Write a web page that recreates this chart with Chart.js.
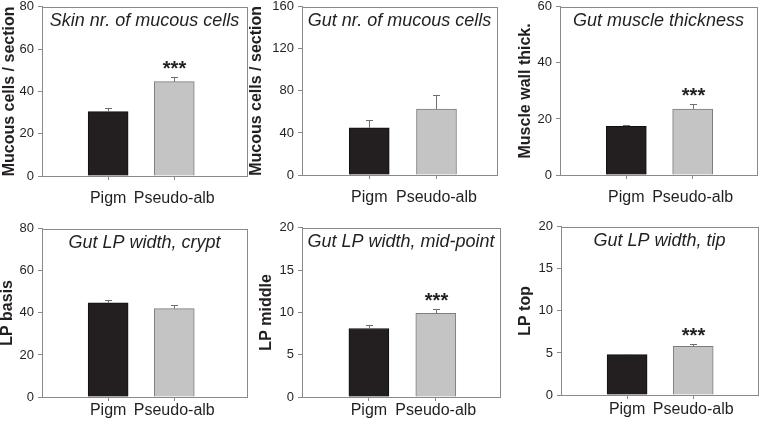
<!DOCTYPE html>
<html>
<head>
<meta charset="utf-8">
<script src="https://cdn.jsdelivr.net/npm/chart.js@4.4.0/dist/chart.umd.min.js"></script>
<style>
  html, body { margin: 0; padding: 0; background: #fff; width: 760px; height: 426px; overflow: hidden; position: relative; }
  canvas { position: absolute; }
</style>
</head>
<body>
<script>
// groups on the x axis
const groups = ['Pigm', 'Pseudo-alb'];

// panel texts
const panelTitles = ['Skin nr. of mucous cells', 'Gut nr. of mucous cells', 'Gut muscle thickness',
  'Gut LP width, crypt', 'Gut LP width, mid-point', 'Gut LP width, tip'];
const axisTitles = ['Mucous cells / section', 'Mucous cells / section', 'Muscle wall thick.',
  'LP basis', 'LP middle', 'LP top'];

// means and standard errors (Pigm, Pseudo-alb)
const skinMucous = [30.4, 44.6];
const skinMucousSE = [1.6, 2.3];
const gutMucous = [44.9, 62.8];
const gutMucousSE = [7.8, 13.4];
const muscleWall = [17.4, 23.5];
const muscleWallSE = [0.6, 1.8];
const lpBasis = [44.8, 42.0];
const lpBasisSE = [1.5, 1.8];
const lpMiddle = [8.1, 9.9];
const lpMiddleSE = [0.4, 0.5];
const lpTop = [4.8, 5.8];
const lpTopSE = [0.12, 0.3];

// y axis ticks
const yMax = [80, 160, 60, 80, 20, 20];
const yStep = [20, 40, 20, 20, 5, 5];

// *** marks
const significant = [[false, true], [false, false], [false, true], [false, false], [false, true], [false, true]];

const means = [skinMucous, gutMucous, muscleWall, lpBasis, lpMiddle, lpTop];
const errors = [skinMucousSE, gutMucousSE, muscleWallSE, lpBasisSE, lpMiddleSE, lpTopSE];

// where each plot box sits on the page
const boxes = [
  { l: 42, t: 5, r: 247, b: 176, yw: 42, xMax: 3.1, lp: 9 },
  { l: 302, t: 5, r: 497, b: 175, yw: 55, xMax: 2.9, lp: 9 },
  { l: 560, t: 5, r: 757, b: 175, yw: 44, xMax: 2.97, lp: 9 },
  { l: 42, t: 227, r: 247, b: 397, yw: 44, xMax: 3.1, lp: 0 },
  { l: 302, t: 226, r: 500, b: 397, yw: 45, xMax: 2.96, lp: 0 },
  { l: 561, t: 225, r: 758, b: 395, yw: 45, xMax: 2.98, lp: 1 }
];

const FONT = "'Liberation Sans', Arial, sans-serif";
const frameColor = '#8a8a8a';
const textColor = '#231f20';
Chart.defaults.font.family = FONT;
Chart.defaults.color = textColor;

const PAD_T = 10, PAD_R = 3, X_H = 34;

const panelExtras = {
  id: 'panelExtras',
  afterDatasetsDraw(chart, args, opts) {
    const ctx = chart.ctx;
    const xs = chart.scales.x, ys = chart.scales.y;
    const a = chart.chartArea;
    ctx.save();
    // error bars
    ctx.strokeStyle = '#6e6e6e';
    ctx.lineWidth = 1;
    opts.mean.forEach((v, i) => {
      const px = Math.round(xs.getPixelForValue(i + 1)) + 0.5;
      const base = ys.getPixelForValue(v);
      const top = Math.round(ys.getPixelForValue(v + opts.se[i])) + 0.5;
      ctx.beginPath();
      ctx.moveTo(px, base);
      ctx.lineTo(px, top);
      ctx.moveTo(px - 3.5, top);
      ctx.lineTo(px + 3.5, top);
      ctx.stroke();
      if (opts.sig[i]) {
        ctx.fillStyle = textColor;
        ctx.font = 'bold 20px ' + FONT;
        ctx.textAlign = 'center';
        ctx.textBaseline = 'alphabetic';
        ctx.fillText('***', px, top - 3);
      }
    });
    // frame
    ctx.strokeStyle = frameColor;
    ctx.strokeRect(Math.round(a.left) + 0.5, Math.round(a.top) + 0.5,
      Math.round(a.right - a.left), Math.round(a.bottom - a.top));
    // title inside the box
    ctx.fillStyle = textColor;
    ctx.font = 'italic 18px ' + FONT;
    ctx.textAlign = 'center';
    ctx.textBaseline = 'alphabetic';
    ctx.fillText(opts.title, (a.left + a.right) / 2, a.top + 19);
    ctx.restore();
  }
};

boxes.forEach((bx, p) => {
  const left = bx.l - bx.yw;
  const top = bx.t - PAD_T;
  const w = bx.r + PAD_R - left;
  const h = bx.b + X_H - top;
  const cv = document.createElement('canvas');
  cv.width = w;
  cv.height = h;
  cv.style.left = left + 'px';
  cv.style.top = top + 'px';
  cv.style.width = w + 'px';
  cv.style.height = h + 'px';
  document.body.appendChild(cv);

  new Chart(cv, {
    type: 'bar',
    data: {
      datasets: [{
        data: means[p].map((v, i) => ({ x: i + 1, y: v })),
        backgroundColor: ['#231f20', '#c4c4c4'],
        borderColor: ['#111111', '#7d7d7d'],
        borderWidth: 1,
        barThickness: 40
      }]
    },
    options: {
      responsive: false,
      animation: false,
      layout: { padding: { top: PAD_T, right: PAD_R, left: 0, bottom: 0 } },
      plugins: {
        legend: { display: false },
        tooltip: { enabled: false },
        panelExtras: { mean: means[p], se: errors[p], sig: significant[p], title: panelTitles[p] }
      },
      scales: {
        x: {
          type: 'linear',
          offset: false,
          min: 0,
          max: bx.xMax,
          afterBuildTicks: (s) => { s.ticks = [{ value: 1 }, { value: 2 }]; },
          afterFit: (s) => { s.height = X_H; },
          ticks: {
            callback: (v) => groups[v - 1],
            font: { size: 16 },
            color: textColor,
            padding: bx.lp,
            maxRotation: 0
          },
          grid: { offset: false, drawOnChartArea: false, tickLength: 4, color: frameColor },
          border: { color: frameColor }
        },
        y: {
          min: 0,
          max: yMax[p],
          afterFit: (s) => { s.width = bx.yw; },
          ticks: { stepSize: yStep[p], font: { size: 13 }, color: textColor, padding: 4 },
          grid: { drawOnChartArea: false, tickLength: 4, color: frameColor },
          border: { color: frameColor },
          title: {
            display: true,
            text: axisTitles[p],
            font: { size: 16, weight: 'bold' },
            color: textColor,
            padding: 0
          }
        }
      }
    },
    plugins: [panelExtras]
  });
});
</script>
</body>
</html>
